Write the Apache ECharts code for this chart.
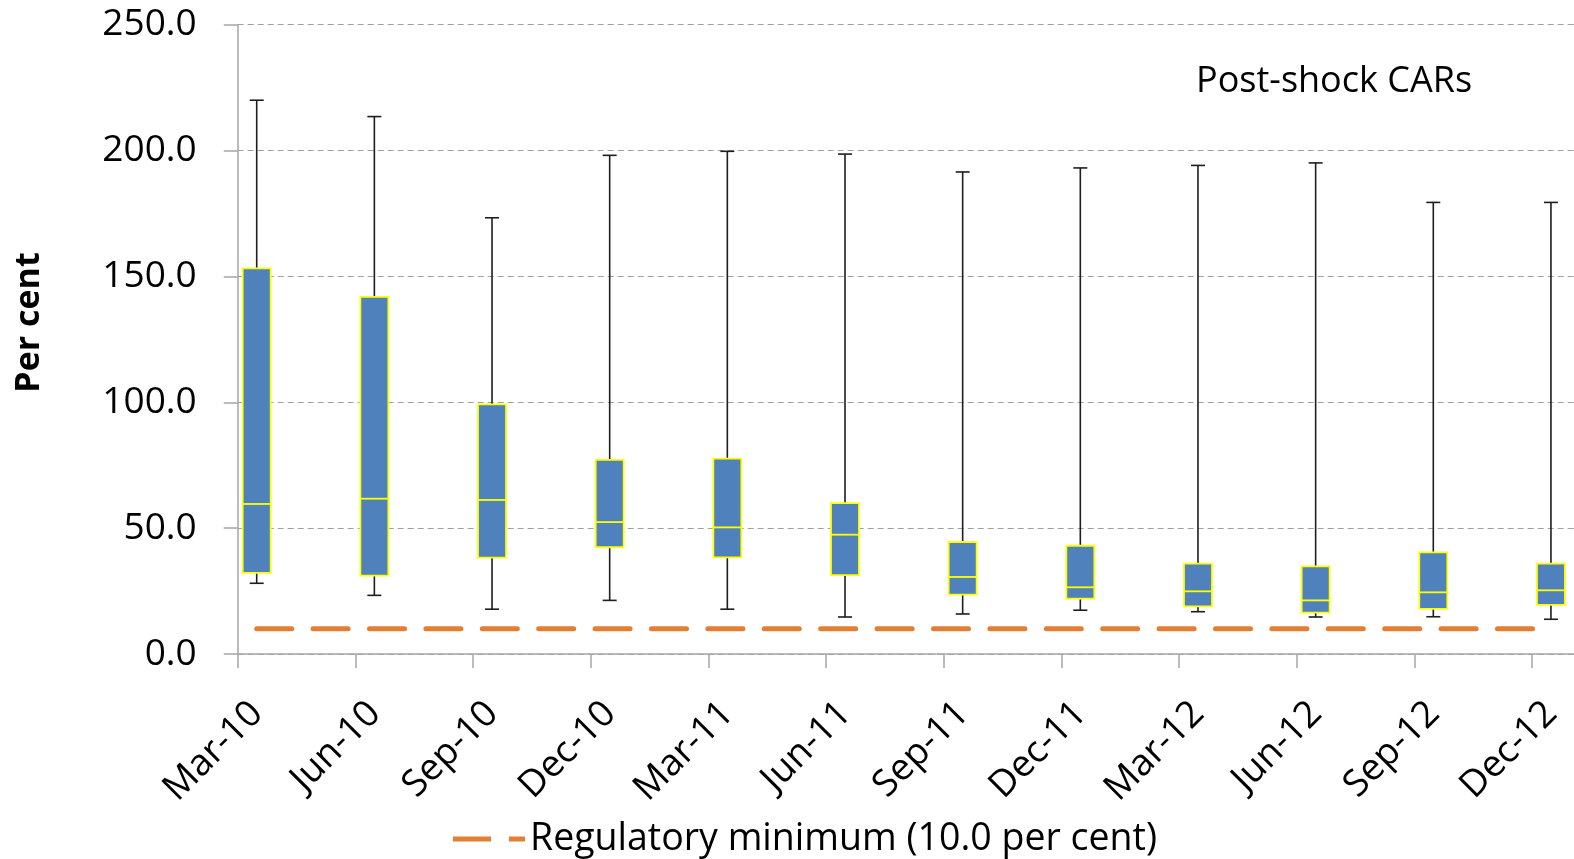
<!DOCTYPE html>
<html>
<head>
<meta charset="utf-8">
<script src="https://cdn.jsdelivr.net/npm/echarts@6/dist/echarts.min.js"></script>
<style>
html,body{margin:0;padding:0;background:#fff;}
#chart{width:1574px;height:859px;}
</style>
</head>
<body>
<div id="chart"></div>
<script>
// ---- data ----
const categories = ['Mar-10','Jun-10','Sep-10','Dec-10','Mar-11','Jun-11','Sep-11','Dec-11','Mar-12','Jun-12','Sep-12','Dec-12'];
const whiskerMin = [28.1, 23.3, 17.8, 21.3, 17.8, 14.7, 15.9, 17.4, 16.8, 14.7, 14.8, 13.8];
const quartile1  = [32.2, 31.1, 38.3, 42.4, 38.4, 31.3, 23.6, 22.0, 18.9, 16.4, 17.9, 19.5];
const medianVals = [59.6, 61.7, 61.2, 52.4, 50.3, 47.4, 30.6, 26.5, 24.9, 21.3, 24.5, 25.3];
const quartile3  = [153.2, 141.9, 99.2, 77.1, 77.6, 59.9, 44.5, 43.0, 35.9, 34.8, 40.4, 35.9];
const whiskerMax = [220.0, 213.5, 173.3, 198.1, 199.7, 198.6, 191.5, 193.1, 194.1, 195.1, 179.4, 179.4];
const regulatoryMin = [10, 10, 10, 10, 10, 10, 10, 10, 10, 10, 10, 10];
const yAxisMin = 0, yAxisMax = 250, yAxisStep = 50;
const legendName = 'Regulatory minimum (10.0 per cent)';
const panelLabel = 'Post-shock CARs';
const yTitle = 'Per cent';

// ---- layout constants ----
const FONT = "'Open Sans', sans-serif";
const plotTop = 24.7, plotBottom = 654;
const tickLeft = 237.7, tickStep = 117.66;
const boxCenter0 = 256.7;
const W = 1574, H = 859;
const plotH = plotBottom - plotTop;

const boxData = categories.map((c, i) => [i, whiskerMin[i], quartile1[i], medianVals[i], quartile3[i], whiskerMax[i]]);
const tickValues = categories.map((c, i) => i);

function renderBox(params, api) {
  const i = api.value(0);
  const pMax = api.coord([i, api.value(5)]);
  const pQ3 = api.coord([i, api.value(4)]);
  const pMed = api.coord([i, api.value(3)]);
  const pQ1 = api.coord([i, api.value(2)]);
  const pMin = api.coord([i, api.value(1)]);
  const x = pMax[0];
  const bw = 28, cw = 14;
  const wStyle = {stroke: '#1e1e1e', lineWidth: 1.6};
  return {
    type: 'group',
    children: [
      {type: 'line', shape: {x1: x, y1: pMax[1], x2: x, y2: pQ3[1]}, style: wStyle},
      {type: 'line', shape: {x1: x - cw / 2, y1: pMax[1], x2: x + cw / 2, y2: pMax[1]}, style: wStyle},
      {type: 'line', shape: {x1: x, y1: pQ1[1], x2: x, y2: pMin[1]}, style: wStyle},
      {type: 'line', shape: {x1: x - cw / 2, y1: pMin[1], x2: x + cw / 2, y2: pMin[1]}, style: wStyle},
      {type: 'rect', shape: {x: x - bw / 2, y: pQ3[1], width: bw, height: pQ1[1] - pQ3[1]},
        style: {fill: '#4F81BD', stroke: '#FFFF00', lineWidth: 1.8}},
      {type: 'line', shape: {x1: x - bw / 2, y1: pMed[1], x2: x + bw / 2, y2: pMed[1]},
        style: {stroke: '#FFFF00', lineWidth: 1.8}}
    ]
  };
}

const chart = echarts.init(document.getElementById('chart'));
const option = {
  animation: false,
  backgroundColor: '#ffffff',
  textStyle: {fontFamily: FONT},
  grid: [
    {left: tickLeft, top: plotTop, width: W - tickLeft, height: plotH, containLabel: false},
    {left: boxCenter0, top: plotTop, width: tickStep * (categories.length - 1), height: plotH, containLabel: false}
  ],
  xAxis: [
    {
      gridIndex: 0, type: 'value', min: 0, max: (W - tickLeft) / tickStep, interval: 1,
      axisLine: {show: true, lineStyle: {color: '#a6a6a6', width: 1.5}},
      axisTick: {show: true, inside: false, length: 14, customValues: tickValues, lineStyle: {color: '#a6a6a6', width: 1.5}},
      axisLabel: {show: false},
      splitLine: {show: false}
    },
    {
      gridIndex: 1, type: 'category', data: categories, boundaryGap: false,
      axisLine: {show: false}, axisTick: {show: false}, splitLine: {show: false},
      axisLabel: {
        show: true, interval: 0, rotate: 45, align: 'right', verticalAlign: 'top', margin: 28,
        padding: [0, 18, 0, 0],
        fontFamily: FONT, fontSize: 37, color: '#000'
      }
    }
  ],
  yAxis: [
    {
      gridIndex: 0, type: 'value', min: yAxisMin, max: yAxisMax, interval: yAxisStep,
      axisLine: {show: true, lineStyle: {color: '#a6a6a6', width: 1.5}},
      axisTick: {show: true, inside: false, length: 14, lineStyle: {color: '#a6a6a6', width: 1.5}},
      axisLabel: {margin: 41, fontFamily: FONT, fontSize: 37, color: '#000', formatter: v => v.toFixed(1)},
      splitLine: {show: true, lineStyle: {color: '#a0a0a0', width: 1, type: [6, 4]}}
    },
    {
      gridIndex: 1, type: 'value', min: yAxisMin, max: yAxisMax, interval: yAxisStep,
      axisLine: {show: false}, axisTick: {show: false}, axisLabel: {show: false}, splitLine: {show: false}
    }
  ],
  legend: {
    data: [{name: legendName, icon: 'path://M0,0h38v5h-38zM56,0h16v5h-16z'}],
    left: 448, top: 815,
    itemWidth: 72, itemHeight: 5, itemGap: 5,
    itemStyle: {color: '#E37E35', borderWidth: 0},
    textStyle: {fontFamily: FONT, fontSize: 37.5, color: '#000'}
  },
  graphic: [
    {type: 'text', x: 1196, y: 82, style: {text: panelLabel, font: '36px ' + FONT, fill: '#000', verticalAlign: 'middle', align: 'left'}},
    {type: 'text', x: 29.5, y: 322.5, rotation: Math.PI / 2,
      style: {text: yTitle, font: 'bold 34px ' + FONT, fill: '#000', verticalAlign: 'middle', align: 'center'}}
  ],
  series: [
    {
      name: legendName, type: 'line', xAxisIndex: 1, yAxisIndex: 1,
      data: regulatoryMin, symbol: 'none', showSymbol: false,
      lineStyle: {color: '#E37E35', width: 5, type: [35, 21.4], cap: 'round'},
      itemStyle: {color: '#E37E35'},
      z: 3
    },
    {
      name: 'CAR distribution', type: 'custom', xAxisIndex: 1, yAxisIndex: 1,
      data: boxData, renderItem: renderBox,
      encode: {x: 0, y: [1, 2, 3, 4, 5]},
      z: 4
    }
  ]
};
chart.setOption(option);
</script>
</body>
</html>
